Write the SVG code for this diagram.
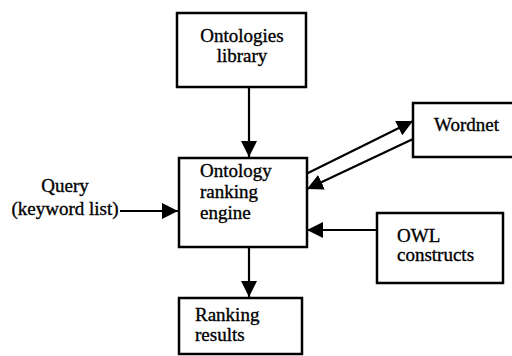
<svg xmlns="http://www.w3.org/2000/svg" width="512" height="356" viewBox="0 0 512 356">
<style>
.box{fill:#fff;stroke:#000;stroke-width:2.5}
text{font-family:'Liberation Serif','Times New Roman',serif;font-size:19px;fill:#000;stroke:#000;stroke-width:0.35}
.c{text-anchor:middle}
.edge{stroke:#000;stroke-width:2.2;fill:none;marker-end:url(#ah)}
</style>
<defs>
<marker id="ah" markerUnits="userSpaceOnUse" markerWidth="16" markerHeight="16" refX="16" refY="8" orient="auto">
<path d="M0,0 L16,8 L0,16 z" fill="#000"/>
</marker>
</defs>
<rect width="512" height="356" fill="#fff"/>
<g id="connectors">
<line class="edge" x1="249" y1="87" x2="249" y2="157"/>
<line class="edge" x1="249" y1="247" x2="249" y2="297"/>
<line class="edge" x1="120" y1="211" x2="178" y2="211"/>
<line class="edge" x1="377" y1="230" x2="307" y2="230"/>
<line class="edge" x1="306" y1="174" x2="413" y2="121"/>
<line class="edge" x1="413" y1="139" x2="307" y2="189"/>
</g>
<g id="ontologies">
<rect class="box" x="177" y="13" width="129" height="74"/>
<text class="c" x="242" y="42">Ontologies</text>
<text class="c" x="242" y="62">library</text>
</g>
<g id="engine">
<rect class="box" x="179" y="158" width="128" height="89"/>
<text x="200" y="177">Ontology</text>
<text x="200" y="198">ranking</text>
<text x="200" y="219">engine</text>
</g>
<g id="wordnet">
<rect class="box" x="413" y="103" width="105" height="54"/>
<text x="434" y="131">Wordnet</text>
</g>
<g id="owl">
<rect class="box" x="377" y="213" width="126" height="70"/>
<text x="397" y="242">OWL</text>
<text x="397" y="261">constructs</text>
</g>
<g id="results">
<rect class="box" x="179" y="298" width="123" height="56"/>
<text x="195" y="321">Ranking</text>
<text x="195" y="341">results</text>
</g>
<g id="query">
<text class="c" x="65" y="192">Query</text>
<text class="c" x="65" y="215">(keyword list)</text>
</g>
</svg>
